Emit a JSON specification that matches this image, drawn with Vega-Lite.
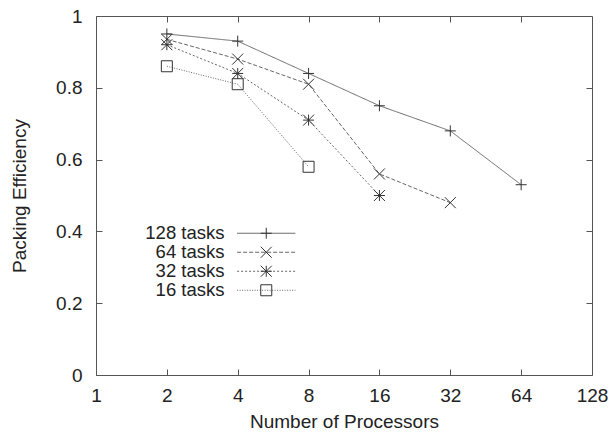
{
  "$schema": "https://vega.github.io/schema/vega-lite/v6.json",
  "width": 496,
  "height": 359,
  "autosize": {"type": "none"},
  "padding": {"left": 96, "top": 16, "right": 19, "bottom": 59},
  "background": "white",
  "config": {
    "font": "Liberation Sans",
    "view": {"stroke": "#555", "strokeWidth": 1},
    "axis": {"grid": false, "domain": false, "tickColor": "#555", "tickWidth": 1, "labelFont": "Liberation Sans", "titleFont": "Liberation Sans", "labelFontSize": 19, "titleFontSize": 19, "labelColor": "#222", "titleColor": "#222", "titleFontWeight": "normal"},
    "legend": {"labelFont": "Liberation Sans"}
  },
  "data": {
    "values": [
      {"n": 2, "eff": 0.95, "series": "128 tasks"},
      {"n": 4, "eff": 0.93, "series": "128 tasks"},
      {"n": 8, "eff": 0.84, "series": "128 tasks"},
      {"n": 16, "eff": 0.75, "series": "128 tasks"},
      {"n": 32, "eff": 0.68, "series": "128 tasks"},
      {"n": 64, "eff": 0.53, "series": "128 tasks"},
      {"n": 2, "eff": 0.935, "series": "64 tasks"},
      {"n": 4, "eff": 0.88, "series": "64 tasks"},
      {"n": 8, "eff": 0.81, "series": "64 tasks"},
      {"n": 16, "eff": 0.56, "series": "64 tasks"},
      {"n": 32, "eff": 0.48, "series": "64 tasks"},
      {"n": 2, "eff": 0.92, "series": "32 tasks"},
      {"n": 4, "eff": 0.84, "series": "32 tasks"},
      {"n": 8, "eff": 0.71, "series": "32 tasks"},
      {"n": 16, "eff": 0.5, "series": "32 tasks"},
      {"n": 2, "eff": 0.86, "series": "16 tasks"},
      {"n": 4, "eff": 0.81, "series": "16 tasks"},
      {"n": 8, "eff": 0.58, "series": "16 tasks"}
    ]
  },
  "layer": [
    {
      "mark": {"type": "line", "stroke": "#666", "strokeWidth": 1},
      "encoding": {
        "x": {"field": "n", "type": "quantitative", "scale": {"type": "log", "base": 2, "domain": [1, 128], "nice": false},
          "axis": {"orient": "bottom", "values": [1, 2, 4, 8, 16, 32, 64, 128], "format": "d", "labelFlush": false, "tickSize": -6, "labelPadding": 17, "title": "Number of Processors", "titlePadding": 7}},
        "y": {"field": "eff", "type": "quantitative", "scale": {"domain": [0, 1], "nice": false, "zero": true},
          "axis": {"orient": "left", "values": [0, 0.2, 0.4, 0.6, 0.8, 1], "format": "~g", "labelFlush": false, "tickSize": -6, "labelPadding": 20, "title": "Packing Efficiency", "titlePadding": 26}},
        "strokeDash": {"field": "series", "type": "nominal", "sort": ["128 tasks", "64 tasks", "32 tasks", "16 tasks"],
          "scale": {"range": [[1, 0], [4, 2], [2, 2], [1, 1.5]]},
          "legend": {"orient": "none", "legendX": 161, "legendY": 208, "title": null, "padding": 0, "rowPadding": 0, "symbolType": "M-5.3,0H5.3", "symbolSize": 121, "symbolStrokeColor": "#666", "symbolFillColor": "transparent", "symbolStrokeWidth": 1, "labelAlign": "right", "labelOffset": -51, "labelFontSize": 18.5, "labelColor": "#222"}}
      }
    },
    {
      "mark": {"type": "point", "filled": false, "stroke": "#333", "strokeWidth": 1, "size": 121, "opacity": 1},
      "encoding": {
        "x": {"field": "n", "type": "quantitative",
          "axis": {"orient": "top", "values": [2, 4, 8, 16, 32, 64], "labels": false, "title": null, "tickSize": -6}},
        "y": {"field": "eff", "type": "quantitative",
          "axis": {"orient": "right", "values": [0.2, 0.4, 0.6, 0.8], "labels": false, "title": null, "tickSize": -6}},
        "shape": {"field": "series", "type": "nominal",
          "scale": {"domain": ["128 tasks", "64 tasks", "32 tasks", "16 tasks"], "range": ["M-1,0H1M0,-1V1", "M-1,-1L1,1M-1,1L1,-1", "M-1,0H1M0,-1V1M-1,-1L1,1M-1,1L1,-1", "M-1,-1H1V1H-1Z"]},
          "legend": {"orient": "none", "legendX": 161, "legendY": 208, "title": null, "padding": 0, "rowPadding": 0, "symbolSize": 121, "symbolStrokeColor": "#333", "symbolFillColor": "transparent", "symbolStrokeWidth": 1, "labelOpacity": 0, "labelFontSize": 18.5}}
      }
    }
  ],
  "resolve": {"axis": {"x": "independent", "y": "independent"}}
}
